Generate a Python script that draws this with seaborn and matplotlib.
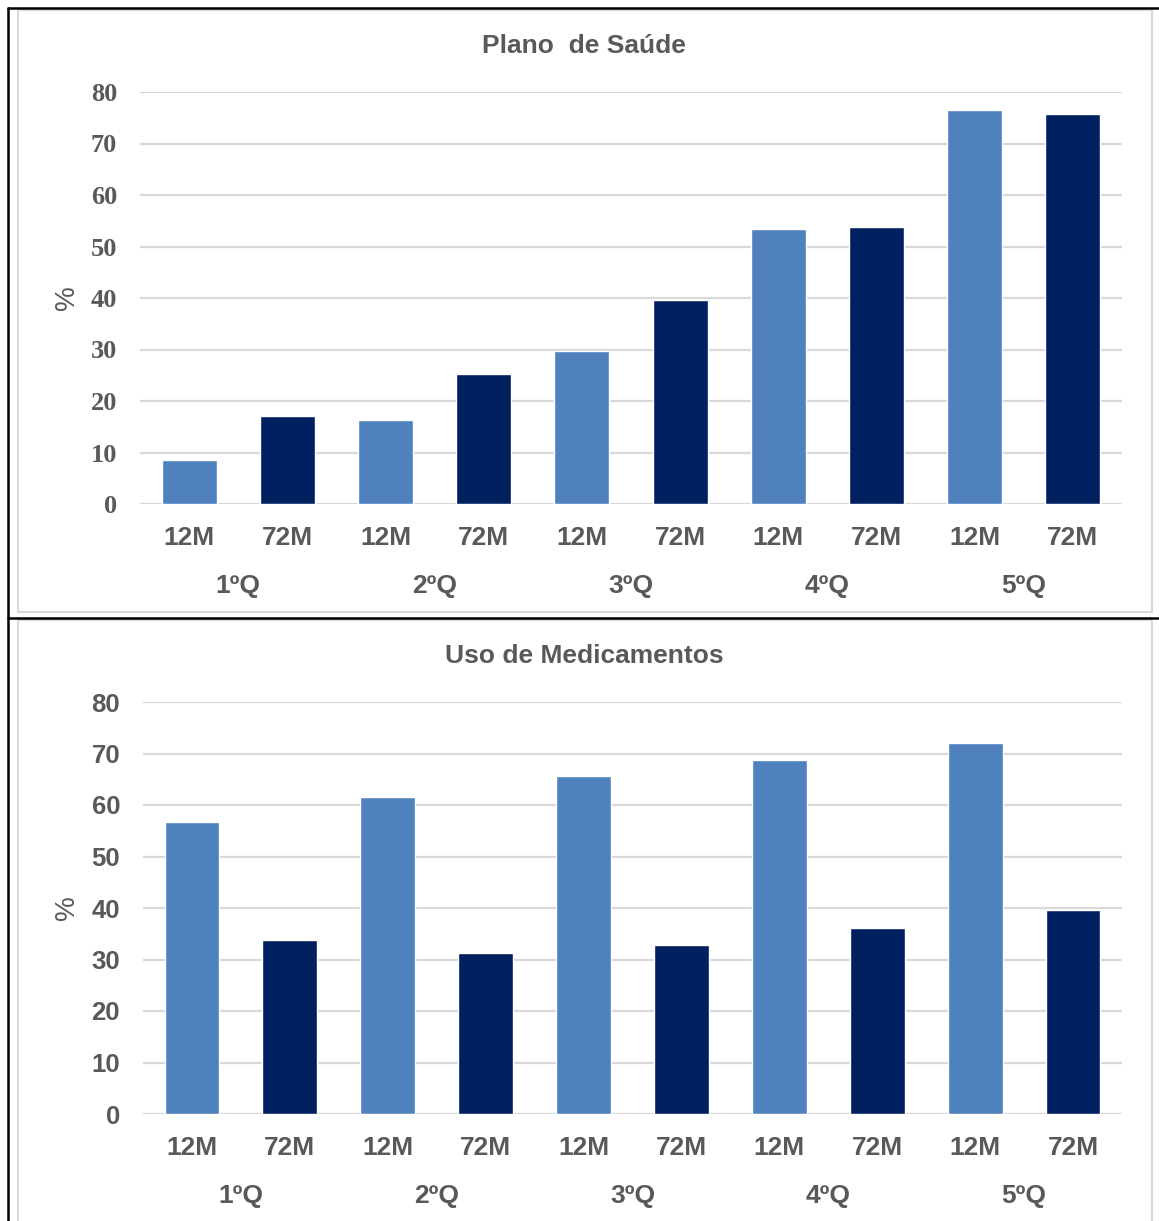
import matplotlib
matplotlib.use("Agg")
import matplotlib.pyplot as plt
import seaborn as sns
import pandas as pd
from matplotlib.lines import Line2D
from matplotlib.patches import Rectangle

sns.set_theme(style="white")
plt.rcParams['font.family'] = ['Liberation Sans', 'DejaVu Sans']

quintiles = ["1ºQ", "2ºQ", "3ºQ", "4ºQ", "5ºQ"]
periods = ["12M", "72M"]
plano_12m = [8.5, 16.3, 29.7, 53.4, 76.5]
plano_72m = [17.1, 25.2, 39.6, 53.8, 75.7]
medic_12m = [56.7, 61.6, 65.6, 68.7, 72.0]
medic_72m = [33.8, 31.3, 32.8, 36.1, 39.6]
titles = ["Plano  de Saúde", "Uso de Medicamentos"]
yticks = [0, 10, 20, 30, 40, 50, 60, 70, 80]

colors = {"12M": "#4F81BD", "72M": "#002060"}
GRAY = "#595959"
GRID = "#D9D9D9"

W, H = 1159, 1221
fig = plt.figure(figsize=(W / 100, H / 100), dpi=100)


def build_df(v12, v72):
    rows = []
    for q, a, b in zip(quintiles, v12, v72):
        rows.append({"pos": f"{q} 12M", "period": "12M", "value": a})
        rows.append({"pos": f"{q} 72M", "period": "72M", "value": b})
    return pd.DataFrame(rows)


def ax_px(left, right, top, bottom):
    return fig.add_axes([left / W, (H - bottom) / H, (right - left) / W, (bottom - top) / H])


panels = [
    (build_df(plano_12m, plano_72m), ax_px(140, 1122, 92, 504), titles[0], 46, "Liberation Serif", 19),
    (build_df(medic_12m, medic_72m), ax_px(143, 1122, 702, 1114), titles[1], 656, "Liberation Sans", 18.5),
]

for df, ax, title, ty, tickfont, tfs in panels:
    sns.barplot(data=df, x="pos", y="value", hue="period", palette=colors,
                dodge=False, width=0.56, legend=False, ax=ax, saturation=1)
    ax.set_xlim(-0.5, 9.5)
    ax.set_ylim(0, 80)
    ax.set_yticks(yticks)
    ax.set_yticklabels([str(t) for t in yticks], fontfamily=tickfont,
                       fontweight="bold", fontsize=tfs, color=GRAY)
    ax.set_xticks(range(10))
    ax.set_xticklabels(periods * 5, fontweight="bold", fontsize=19, color=GRAY)
    ax.tick_params(axis="y", length=0, pad=16.5)
    ax.tick_params(axis="x", length=0, pad=16)
    ax.yaxis.grid(True, color=GRID, linewidth=1.6)
    ax.set_axisbelow(True)
    for s in ax.spines.values():
        s.set_visible(False)
    ax.set_xlabel("")
    ax.set_ylabel("%", fontsize=20, color=GRAY, labelpad=8)
    for i, q in enumerate(quintiles):
        ax.annotate(q, xy=(2 * i + 0.5, 0), xycoords=("data", "axes fraction"),
                    xytext=(0, -59), textcoords="offset points",
                    ha="center", va="center", fontweight="bold",
                    fontsize=19, color=GRAY)
    fig.text(584 / W, 1 - ty / H, title, ha="center", va="center",
             fontweight="bold", fontsize=19, color=GRAY)

# panel borders (light gray)
fig.add_artist(Rectangle((18 / W, (H - 612) / H), (1152 - 18) / W, (612 - 10) / H,
                         transform=fig.transFigure, fill=False, edgecolor=GRID, linewidth=1.5))
fig.add_artist(Rectangle((18 / W, (H - 1230) / H), (1152 - 18) / W, (1230 - 620) / H,
                         transform=fig.transFigure, fill=False, edgecolor=GRID, linewidth=1.5))
# black frame lines
fig.add_artist(Line2D([8 / W, 8 / W], [0, 1 - 8 / H], color="black", linewidth=1.8, transform=fig.transFigure))
fig.add_artist(Line2D([8 / W, 1], [1 - 8 / H, 1 - 8 / H], color="black", linewidth=1.8, transform=fig.transFigure))
fig.add_artist(Line2D([8 / W, 1], [1 - 618 / H, 1 - 618 / H], color="black", linewidth=1.8, transform=fig.transFigure))

fig.savefig("out.png", dpi=100, facecolor="white")
